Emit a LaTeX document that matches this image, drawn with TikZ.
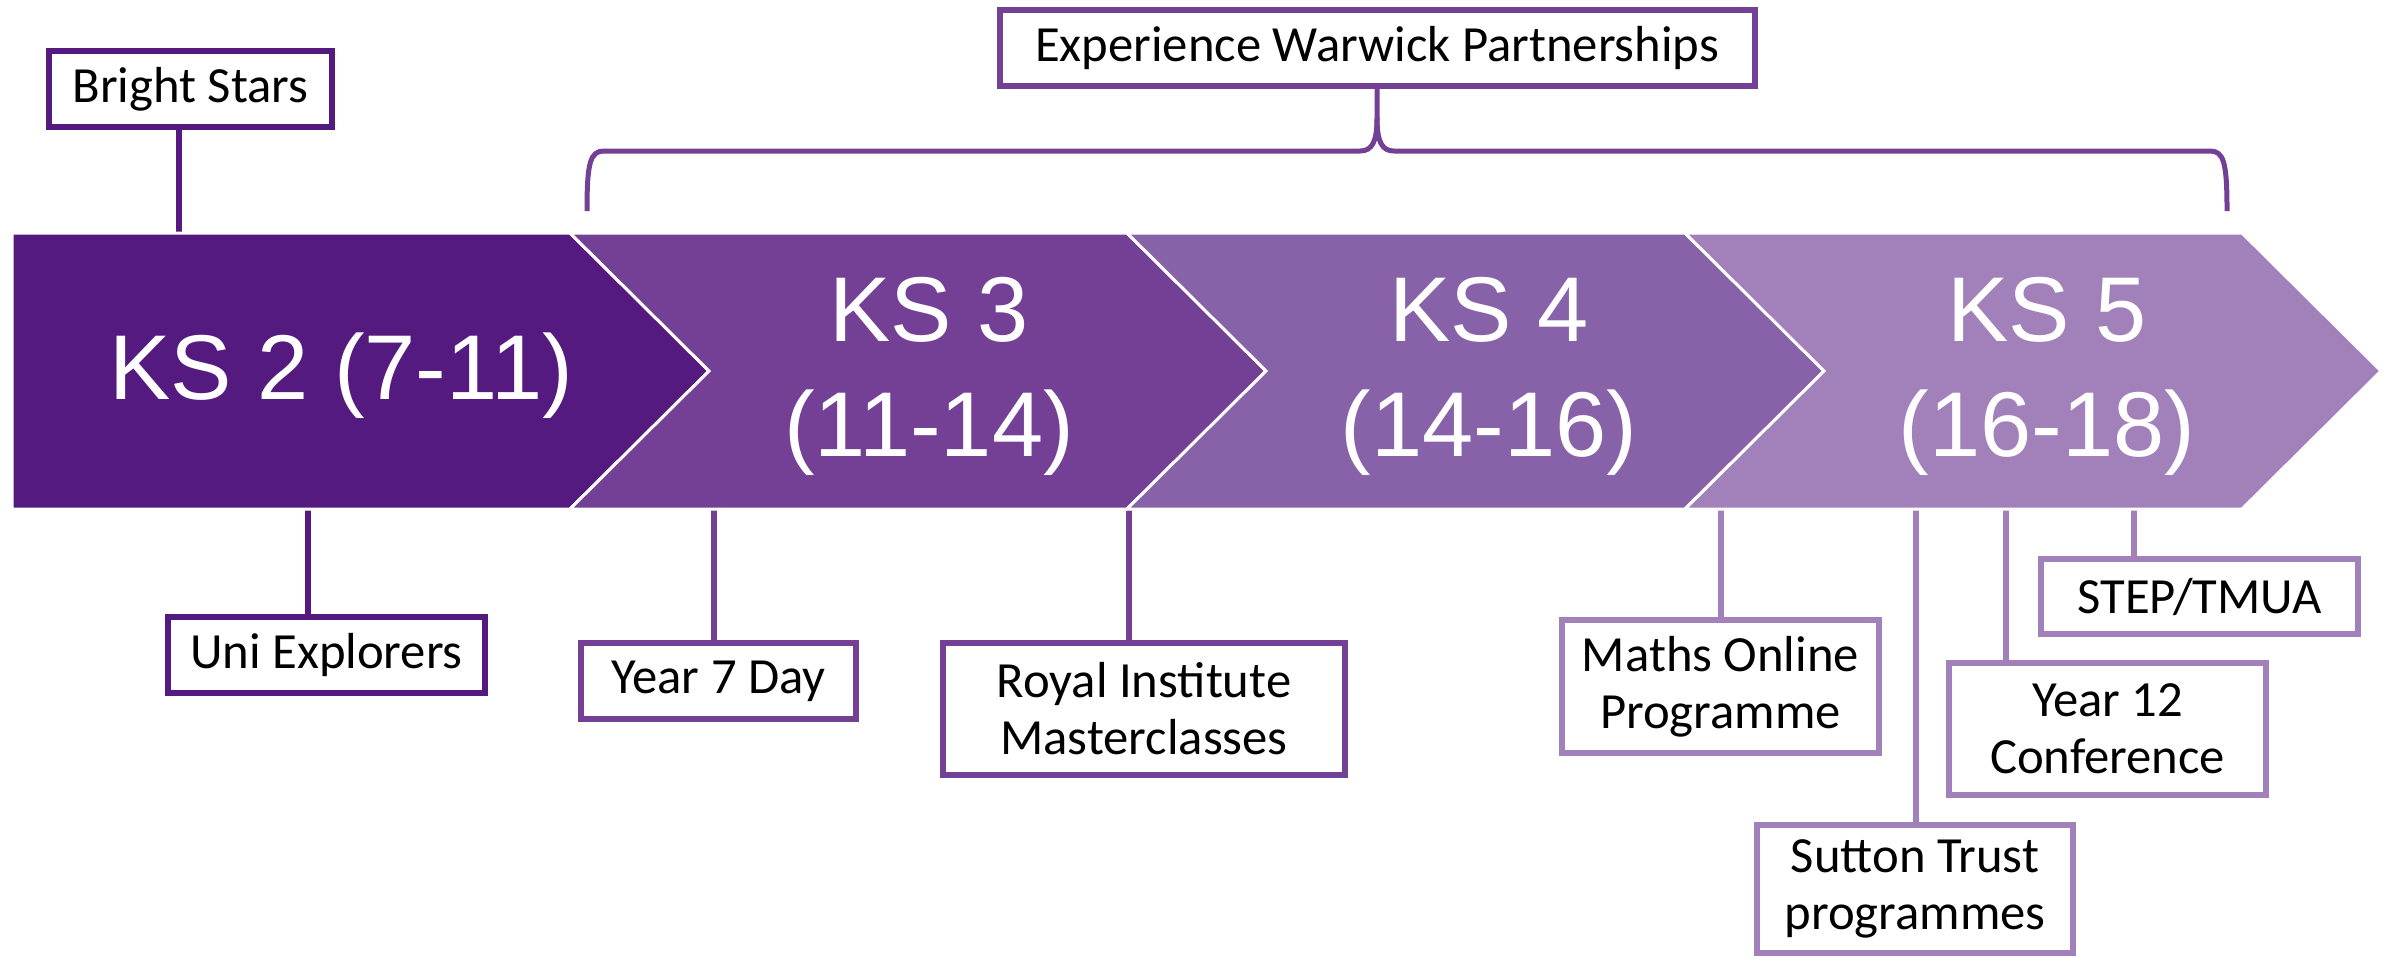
\documentclass[tikz,border=0pt]{standalone}
\usepackage{fontspec}
\setmainfont{Carlito}
\newfontfamily\ksfont{Liberation Sans}
\definecolor{kstwo}{RGB}{85,26,128}
\definecolor{ksthree}{RGB}{115,64,150}
\definecolor{ksfour}{RGB}{136,98,168}
\definecolor{ksfive}{RGB}{162,129,186}
\begin{document}
\begin{tikzpicture}[x=0.3pt,y=-0.3pt,
  stage/.style={fill=#1, draw=white, line width=0.9pt, line join=miter},
  stagetext/.style={text=white, font=\ksfont\fontsize{27.6}{34.5}\selectfont, align=center},
  prog/.style args={#1/#2/#3}{draw=#1, line width=1.8pt, fill=white,
    minimum width=#2*0.3pt, minimum height=#3*0.3pt, inner sep=0pt,
    align=center, font=\fontsize{15.2}{17.1}\selectfont, text=black},
  link/.style={draw=#1, line width=2pt},
  brace/.style={draw=ksthree, line width=1.5pt, line cap=butt}
]
\useasboundingbox[fill=white] (0,0) rectangle (2395,958);

% programme boxes
\node[prog=kstwo/283/76] (bright) at (190.5,89) {Bright Stars};
\node[prog=ksthree/755/76] (exp) at (1377,48) {Experience Warwick Partnerships};
\node[prog=kstwo/317/76] (uni) at (326.5,655) {Uni Explorers};
\node[prog=ksthree/275/76] (yseven) at (718.5,681) {Year 7 Day};
\node[prog=ksthree/402/132] (royal) at (1144,709) {Royal Institute\\Masterclasses};
\node[prog=ksfive/317/133] (maths) at (1720.5,686.5) {Maths Online\\Programme};
\node[prog=ksfive/316/128] (sutton) at (1915,889) {Sutton Trust\\programmes};
\node[prog=ksfive/317/132] (ytwelve) at (2107.5,729) {Year 12\\Conference};
\node[prog=ksfive/317/75] (step) at (2199.5,596.5) {STEP/TMUA};

% attachment points on the stage band
\coordinate (aBright) at (179,233);
\coordinate (aUni) at (308,509);
\coordinate (aYseven) at (714,509);
\coordinate (aRoyal) at (1129,509);
\coordinate (aMaths) at (1721,509);
\coordinate (aSutton) at (1916,509);
\coordinate (aYtwelve) at (2006,509);
\coordinate (aStep) at (2134,509);

% connectors
\draw[link=kstwo] (aBright) -- (aBright |- bright.south);
\draw[link=kstwo] (aUni) -- (aUni |- uni.north);
\draw[link=ksthree] (aYseven) -- (aYseven |- yseven.north);
\draw[link=ksthree] (aRoyal) -- (aRoyal |- royal.north);
\draw[link=ksfive] (aMaths) -- (aMaths |- maths.north);
\draw[link=ksfive] (aSutton) -- (aSutton |- sutton.north);
\draw[link=ksfive] (aYtwelve) -- (aYtwelve |- ytwelve.north);
\draw[link=ksfive] (aStep) -- (aStep |- step.north);

% key stage chevrons
\path[stage=kstwo] (12,233) -- (570,233) -- (709,371) -- (570,509) -- (12,509) -- cycle;
\path[stage=ksthree] (570,233) -- (1127,233) -- (1266,371) -- (1127,509) -- (570,509) -- (709,371) -- cycle;
\path[stage=ksfour] (1127,233) -- (1685,233) -- (1824,371) -- (1685,509) -- (1127,509) -- (1266,371) -- cycle;
\path[stage=ksfive] (1685,233) -- (2242,233) -- (2381,371) -- (2242,509) -- (1685,509) -- (1824,371) -- cycle;

\node[stagetext] (kstwolbl) at (341,376) {KS 2 (7-11)};
\node[stagetext] (ksthreelbl) at (929,376) {KS 3\\(11-14)};
\node[stagetext] (ksfourlbl) at (1489,376) {KS 4\\(14-16)};
\node[stagetext] (ksfivelbl) at (2047,376) {KS 5\\(16-18)};

% brace spanning KS 3 to KS 5
\coordinate (bL) at (587,211);
\coordinate (bR) at (2227,211);
\draw[brace] (bL) .. controls (587,163) and (590,151) .. (604,151) -- (1360,151)
  .. controls (1372,151) and (1377,142) .. (1377,118) -- (exp.south);
\draw[brace] (bR) .. controls (2227,163) and (2224,151) .. (2210,151) -- (1394,151)
  .. controls (1382,151) and (1377,142) .. (1377,118);
\end{tikzpicture}
\end{document}
